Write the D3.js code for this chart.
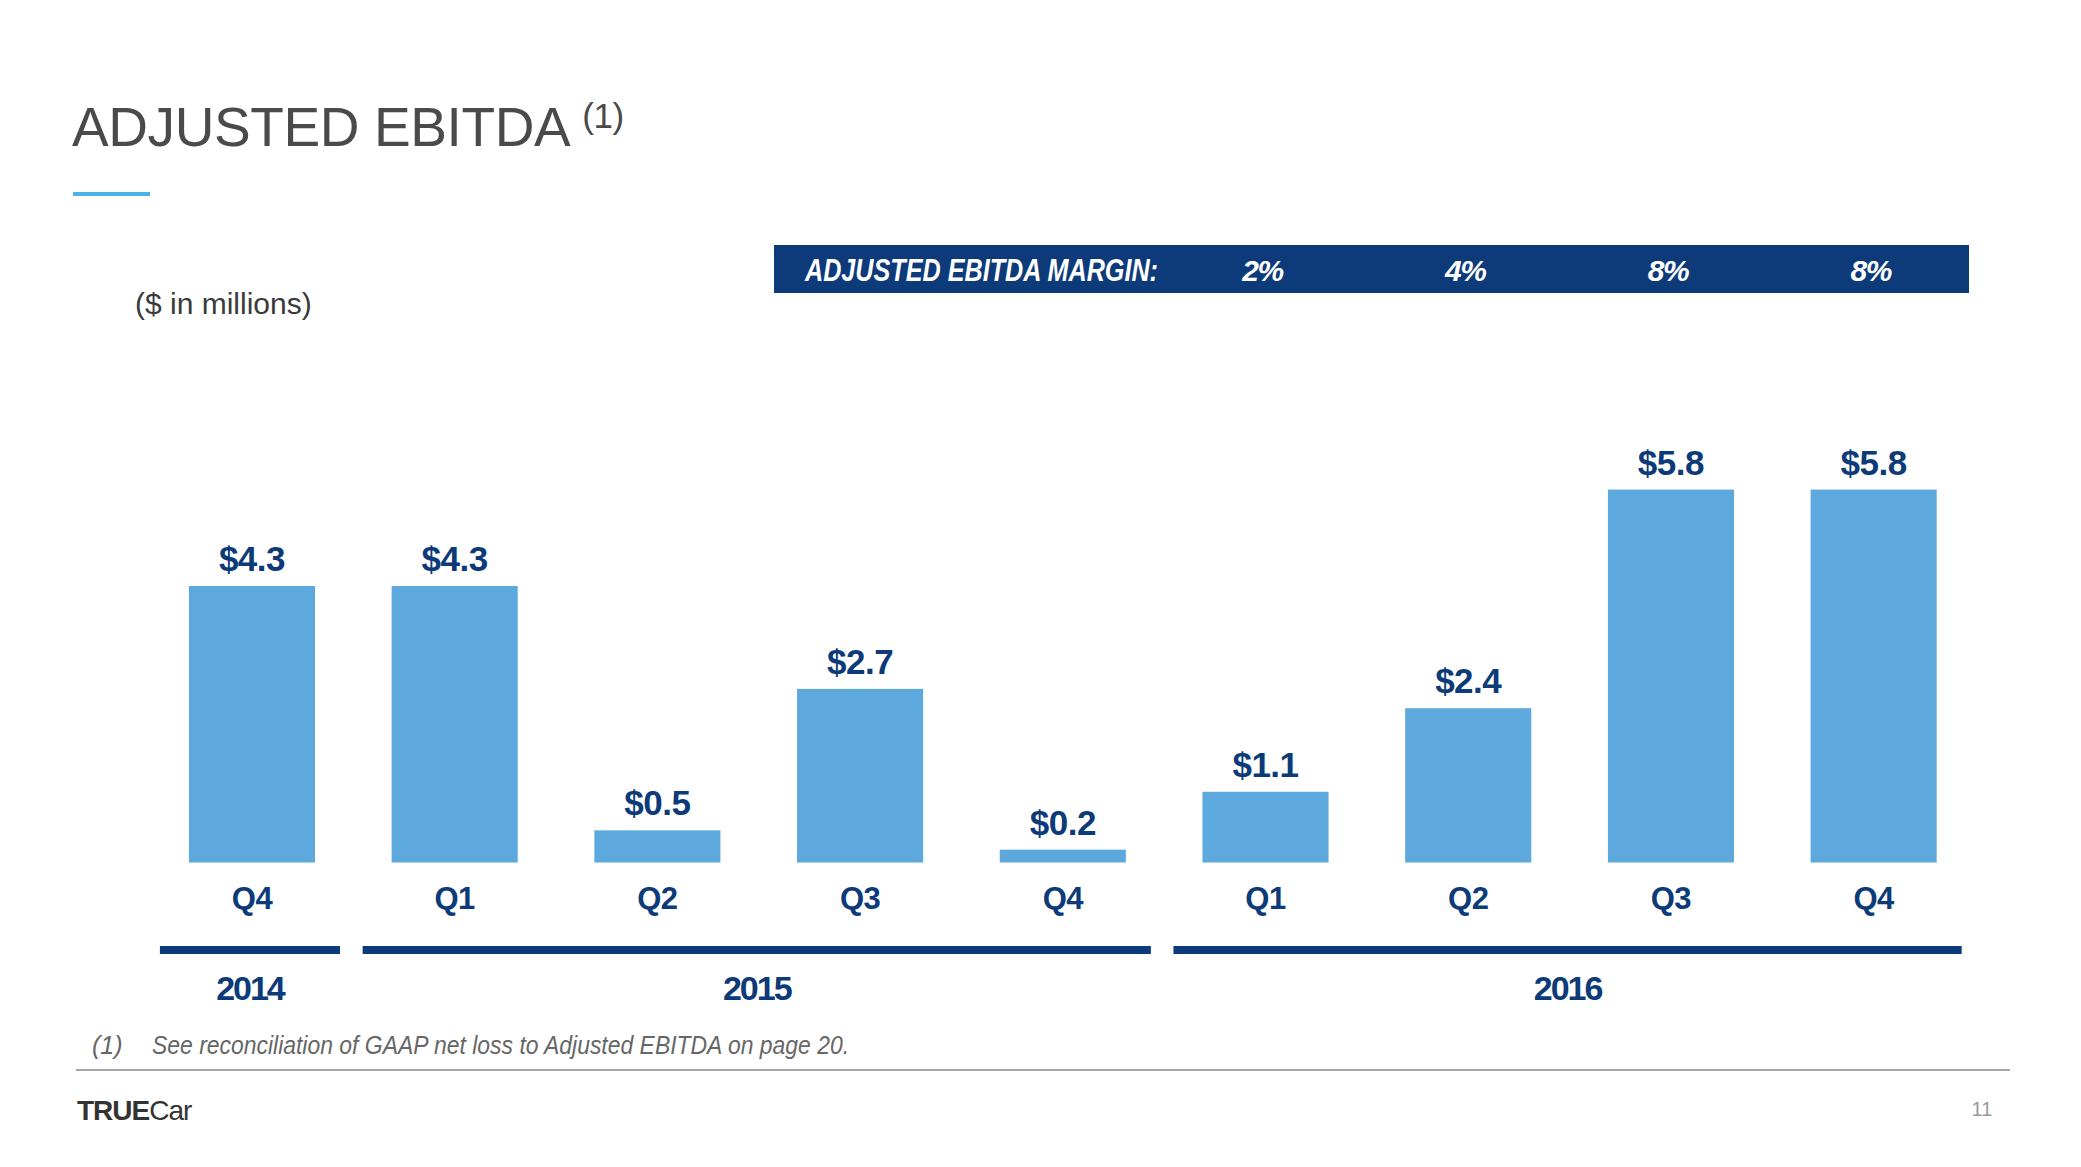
<!DOCTYPE html>
<html>
<head>
<meta charset="utf-8">
<script src="https://cdn.jsdelivr.net/npm/d3@7"></script>
<style>
	body { margin: 0; background: #fff; }
	svg { display: block; }
	.narrow { font-family: "Liberation Sans Narrow", "Arial Narrow", "Liberation Sans", sans-serif; }
</style>
</head>
<body>
<svg id="chart" width="2081" height="1167"></svg>
<script>
function whenDocumentLoaded(action) {
	if (document.readyState === "loading") {
		document.addEventListener("DOMContentLoaded", action);
	} else {
		action();
	}
}

const QUARTERS = ['Q4', 'Q1', 'Q2', 'Q3', 'Q4', 'Q1', 'Q2', 'Q3', 'Q4'];
const BAR_YEARS = ['2014', '2015', '2015', '2015', '2015', '2016', '2016', '2016', '2016'];
const EBITDA = [4.3, 4.3, 0.5, 2.7, 0.2, 1.1, 2.4, 5.8, 5.8];
const YEARS = ['2014', '2015', '2016'];
// margin is only given for the 2016 quarters
const MARGIN_BARS = [5, 6, 7, 8];
const MARGINS = [2, 4, 8, 8];

const NAVY = '#0d3a78';
const BAR_BLUE = '#5da8dc';

class EbitdaChart {
	constructor(svgId) {
		this.svg = d3.select(`#${svgId}`);
		this.baseline = 862.5;
		this.scale = {};
		this.scale.x = d3.scaleBand()
			.domain(d3.range(EBITDA.length))
			.range([150.6, 1975])
			.paddingInner(0.378)
			.paddingOuter(0.189);
		this.scale.y = d3.scaleLinear()
			.domain([0, 6])
			.range([this.baseline, this.baseline - 6 * 64.3]);
	}

	drawHeader() {
		const title = this.svg.append('text')
			.attr('x', 72)
			.attr('y', 146)
			.attr('fill', '#4a4a4a')
			.style('font-family', '"Liberation Sans", Arial, sans-serif')
			.style('font-size', '55px')
			.style('letter-spacing', '-0.4px')
			.text('ADJUSTED EBITDA');
		title.append('tspan')
			.attr('dx', 12)
			.attr('dy', -18)
			.style('font-size', '35px')
			.text('(1)');

		this.svg.append('rect')
			.attr('x', 73).attr('y', 192)
			.attr('width', 77).attr('height', 4)
			.attr('fill', '#4db3e6');

		this.svg.append('text')
			.attr('x', 135)
			.attr('y', 314)
			.attr('fill', '#3a3a3a')
			.style('font-family', '"Liberation Sans", Arial, sans-serif')
			.style('font-size', '30px')
			.text('($ in millions)');
	}

	drawMarginBanner() {
		const x = this.scale.x;
		const bw = x.bandwidth();
		this.svg.append('rect')
			.attr('x', 774).attr('y', 245)
			.attr('width', 1195).attr('height', 48)
			.attr('fill', NAVY);
		this.svg.append('text')
			.attr('class', 'narrow')
			.attr('x', 805)
			.attr('y', 281)
			.attr('fill', '#fff')
			.attr('textLength', 353)
			.attr('lengthAdjust', 'spacingAndGlyphs')
			.style('font-size', '31px')
			.style('font-weight', 'bold')
			.style('font-style', 'italic')
			.text('ADJUSTED EBITDA MARGIN:');
		this.svg.selectAll('.margin')
			.data(MARGINS)
			.enter()
			.append('text')
			.attr('class', 'narrow margin')
			.attr('x', (d, i) => x(MARGIN_BARS[i]) + bw / 2 - 3)
			.attr('y', 281)
			.attr('text-anchor', 'middle')
			.attr('fill', '#fff')
			.style('font-size', '30px')
			.style('font-weight', 'bold')
			.style('font-style', 'italic')
			.style('letter-spacing', '-1.5px')
			.text((d) => `${d}%`);
	}

	drawBars() {
		const x = this.scale.x;
		const y = this.scale.y;
		this.svg.selectAll('.bar')
			.data(EBITDA)
			.enter()
			.append('rect')
			.attr('class', 'bar')
			.attr('x', (d, i) => x(i))
			.attr('y', (d) => y(d))
			.attr('width', x.bandwidth())
			.attr('height', (d) => this.baseline - y(d))
			.attr('fill', BAR_BLUE);
		this.svg.selectAll('.value')
			.data(EBITDA)
			.enter()
			.append('text')
			.attr('class', 'narrow value')
			.attr('x', (d, i) => x(i) + x.bandwidth() / 2)
			.attr('y', (d) => y(d) - 15)
			.attr('text-anchor', 'middle')
			.attr('fill', NAVY)
			.style('font-size', '35px')
			.style('font-weight', 'bold')
			.style('letter-spacing', '-0.5px')
			.text((d) => `$${d.toFixed(1)}`);

		const xAxis = d3.axisBottom(x)
			.tickSize(0)
			.tickPadding(0)
			.tickFormat((i) => QUARTERS[i]);
		const axis = this.svg.append('g')
			.attr('transform', `translate(0,${this.baseline + 46.5})`)
			.call(xAxis);
		axis.select('.domain').remove();
		axis.selectAll('text')
			.attr('class', 'narrow')
			.attr('dy', 0)
			.attr('fill', NAVY)
			.style('font-size', '31px')
			.style('font-weight', 'bold')
			.style('letter-spacing', '-0.5px');
	}

	drawYears() {
		const x = this.scale.x;
		const bw = x.bandwidth();
		const groups = YEARS.map((year) => {
			const idx = d3.range(BAR_YEARS.length).filter((i) => BAR_YEARS[i] === year);
			return {
				year: year,
				x0: x(d3.min(idx)) - 29,
				x1: x(d3.max(idx)) + bw + 25
			};
		});
		this.svg.selectAll('.year-bar')
			.data(groups)
			.enter()
			.append('rect')
			.attr('x', (d) => d.x0)
			.attr('y', 946)
			.attr('width', (d) => d.x1 - d.x0)
			.attr('height', 8)
			.attr('fill', NAVY);
		this.svg.selectAll('.year')
			.data(groups)
			.enter()
			.append('text')
			.attr('class', 'narrow year')
			.attr('x', (d) => (d.x0 + d.x1) / 2)
			.attr('y', 1000)
			.attr('text-anchor', 'middle')
			.attr('fill', NAVY)
			.style('font-size', '34px')
			.style('font-weight', 'bold')
			.style('letter-spacing', '-2px')
			.text((d) => d.year);
	}

	drawFooter() {
		const note = this.svg.append('g')
			.attr('class', 'narrow')
			.attr('fill', '#666')
			.style('font-size', '25px')
			.style('font-style', 'italic');
		note.append('text').attr('x', 92).attr('y', 1054).text('(1)');
		note.append('text').attr('x', 152).attr('y', 1054)
			.attr('textLength', 697)
			.attr('lengthAdjust', 'spacingAndGlyphs')
			.text('See reconciliation of GAAP net loss to Adjusted EBITDA on page 20.');

		this.svg.append('line')
			.attr('x1', 76).attr('x2', 2010)
			.attr('y1', 1070).attr('y2', 1070)
			.attr('stroke', '#a6a6a6')
			.attr('stroke-width', 2);

		const logo = this.svg.append('text')
			.attr('class', 'narrow')
			.attr('x', 77)
			.attr('y', 1120)
			.attr('fill', '#333')
			.style('font-size', '28px')
			.style('letter-spacing', '-1px');
		logo.append('tspan').style('font-weight', 'bold').text('TRUE');
		logo.append('tspan').style('font-weight', 'normal').text('Car');

		this.svg.append('text')
			.attr('x', 1982)
			.attr('y', 1116)
			.attr('text-anchor', 'middle')
			.attr('fill', '#999')
			.style('font-family', '"Liberation Sans", Arial, sans-serif')
			.style('font-size', '20px')
			.text('11');
	}

	show() {
		this.drawHeader();
		this.drawMarginBanner();
		this.drawBars();
		this.drawYears();
		this.drawFooter();
	}
}

whenDocumentLoaded(() => {
	const chart = new EbitdaChart('chart');
	chart.show();
});
</script>
</body>
</html>
